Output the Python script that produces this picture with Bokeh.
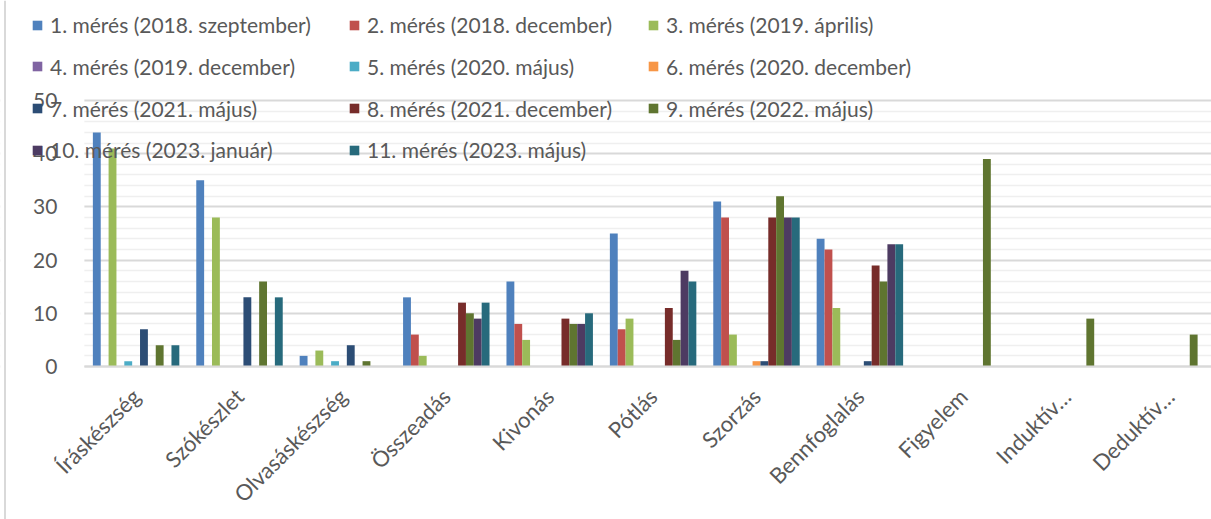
import math
from bokeh.plotting import figure
from bokeh.models import (ColumnDataSource, Range1d, FixedTicker, Legend, LegendItem,
                          BoxAnnotation, Span)
from bokeh.embed import file_html
from bokeh.resources import INLINE

categories = ["Íráskészség", "Szókészlet", "Olvasáskészség", "Összeadás", "Kivonás",
              "Pótlás", "Szorzás", "Bennfoglalás", "Figyelem", "Induktív…", "Deduktív…"]

series_names = [
    "1. mérés (2018. szeptember)", "2. mérés (2018. december)", "3. mérés (2019. április)",
    "4. mérés (2019. december)", "5. mérés (2020. május)", "6. mérés (2020. december)",
    "7. mérés (2021. május)", "8. mérés (2021. december)", "9. mérés (2022. május)",
    "10. mérés (2023. január)", "11. mérés (2023. május)",
]

m1 = [44, 35, 2, 13, 16, 25, 31, 24, 0, 0, 0]
m2 = [0, 0, 0, 6, 8, 7, 28, 22, 0, 0, 0]
m3 = [41, 28, 3, 2, 5, 9, 6, 11, 0, 0, 0]
m4 = [0, 0, 0, 0, 0, 0, 0, 0, 0, 0, 0]
m5 = [1, 0, 1, 0, 0, 0, 0, 0, 0, 0, 0]
m6 = [0, 0, 0, 0, 0, 0, 1, 0, 0, 0, 0]
m7 = [7, 13, 4, 0, 0, 0, 1, 1, 0, 0, 0]
m8 = [0, 0, 0, 12, 9, 11, 28, 19, 0, 0, 0]
m9 = [4, 16, 1, 10, 8, 5, 32, 16, 39, 9, 6]
m10 = [0, 0, 0, 9, 8, 18, 28, 23, 0, 0, 0]
m11 = [4, 13, 0, 12, 10, 16, 28, 23, 0, 0, 0]

series_values = [m1, m2, m3, m4, m5, m6, m7, m8, m9, m10, m11]

y_ticks = [0, 10, 20, 30, 40, 50]
y_minor_ticks = [2, 4, 6, 8, 12, 14, 16, 18, 22, 24, 26, 28, 32, 34, 36, 38, 42, 44, 46, 48]

colors = ["#4F81BD", "#C0504D", "#9BBB59", "#8064A2", "#4BACC6", "#F79646",
          "#2C4D75", "#772C2A", "#5F7530", "#4D3B62", "#276A7C"]

FONT = "Lato"
TEXT = "#595959"

# layout (pixels) - the frame covers the whole canvas, axes are drawn at fixed positions
W, H = 1211, 519
AXIS_Y_PX = 366        # vertical position of the category axis, from the top
AXIS_LEFT_PX = 83.9    # where the category axis starts
CAT_PX = 103.4         # width of one category
PX_PER_UNIT = 266 / 50
BAR_W = 7.86 / CAT_PX

x_start = -AXIS_LEFT_PX / CAT_PX
x_end = (W - AXIS_LEFT_PX) / CAT_PX
y_start = -(H - AXIS_Y_PX) / PX_PER_UNIT
y_end = AXIS_Y_PX / PX_PER_UNIT

p = figure(frame_width=W, frame_height=H,
           x_range=Range1d(x_start, x_end), y_range=Range1d(y_start, y_end),
           output_backend="svg", toolbar_location=None,
           min_border_left=0, min_border_top=0, min_border_bottom=0, min_border_right=0)
p.outline_line_color = None
p.background_fill_color = "white"
p.border_fill_color = "white"

# value axis
ticker = FixedTicker(ticks=y_ticks, minor_ticks=y_minor_ticks)
p.yaxis.ticker = ticker
p.yaxis.fixed_location = 0
p.yaxis.bounds = (0, max(y_ticks))
p.yaxis.axis_line_color = None
p.yaxis.major_tick_line_color = None
p.yaxis.minor_tick_line_color = None
p.yaxis.major_label_standoff = 21
p.yaxis.major_label_text_font = FONT
p.yaxis.major_label_text_font_size = "21px"
p.yaxis.major_label_text_color = TEXT
p.ygrid.ticker = ticker
p.ygrid.grid_line_color = "#D9D9D9"
p.ygrid.grid_line_width = 2
p.ygrid.minor_grid_line_color = "#EFEFEF"
p.ygrid.minor_grid_line_width = 1.5
p.xgrid.grid_line_color = None

# keep the grid off the area left of the plot
p.add_layout(BoxAnnotation(right=0, fill_color="white", fill_alpha=1.0,
                           line_color=None, level="underlay"))

# thin chart border on the left edge
p.add_layout(Span(location=4.5, location_units="screen", dimension="height",
                  line_color="#D9D9D9", line_width=2))

# category axis
centers = [i + 0.5 for i in range(len(categories))]
p.xaxis.ticker = FixedTicker(ticks=centers)
p.xaxis.major_label_overrides = {c: name for c, name in zip(centers, categories)}
p.xaxis.major_label_orientation = math.pi / 4
p.xaxis.fixed_location = 0
p.xaxis.bounds = (0, x_end)
p.xaxis.axis_line_color = "#D9D9D9"
p.xaxis.axis_line_width = 2
p.xaxis.major_tick_line_color = None
p.xaxis.minor_tick_line_color = None
p.xaxis.major_label_standoff = 20
p.xaxis.major_label_text_font = FONT
p.xaxis.major_label_text_font_size = "22px"
p.xaxis.major_label_text_color = TEXT

renderers = []
n = len(series_values)
for j, (vals, col) in enumerate(zip(series_values, colors)):
    xs = [c + (j - (n - 1) / 2) * BAR_W for c in centers]
    src = ColumnDataSource(dict(x=xs, top=vals))
    r = p.vbar(x="x", top="top", bottom=0, width=BAR_W, source=src,
               fill_color=col, line_color=None)
    renderers.append(r)

# legend: 4 rows x 3 columns, row-major
col_x = [31, 348, 647]                 # px from the left
row_cy_top = [24.5, 66, 108, 149.5]    # row centres, px from the top
ITEM_H = 26
for k, (name, r) in enumerate(zip(series_names, renderers)):
    row, colm = divmod(k, 3)
    lg = Legend(items=[LegendItem(label=name, renderers=[r])],
                location=(col_x[colm], H - row_cy_top[row] - ITEM_H / 2),
                orientation="horizontal",
                glyph_width=12, glyph_height=12, label_standoff=7,
                label_height=ITEM_H, padding=0, margin=0, spacing=0,
                border_line_color=None, background_fill_alpha=0,
                label_text_font=FONT, label_text_font_size="21px",
                label_text_color=TEXT)
    p.add_layout(lg, "center")

open("out.html", "w").write(file_html(p, INLINE))
